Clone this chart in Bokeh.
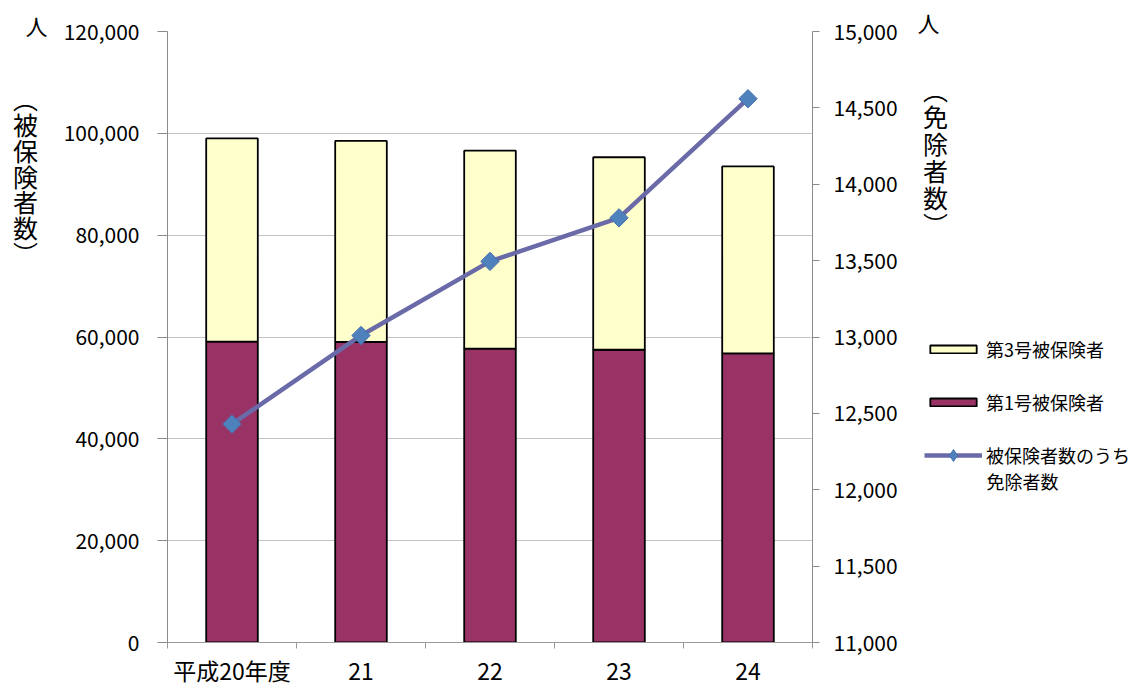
import math
from bokeh.plotting import figure
from bokeh.layouts import row
from bokeh.models import (Range1d, LinearAxis, FixedTicker, NumeralTickFormatter,
                          Legend, LegendItem, Label, ColumnDataSource)
from bokeh.embed import file_html
from bokeh.resources import INLINE

years = ["平成20年度", "21", "22", "23", "24"]
dai1 = [59100, 59050, 57700, 57500, 56800]      # 第1号被保険者
dai3 = [39900, 39450, 38900, 37800, 36700]      # 第3号被保険者
exempt = [12430, 13010, 13495, 13780, 14560]   # 被保険者数のうち免除者数

left_title = "\n".join(["︵", "被", "保", "険", "者", "数", "︶"])
right_title = "\n".join(["︵", "免", "除", "者", "数", "︶"])
unit = "人"
legend_labels = ["第3号被保険者", "第1号被保険者", "被保険者数のうち", "免除者数"]

JP = "Noto Sans CJK JP"
C1, C3, CL, CM, CMO = "#993366", "#FFFFCC", "#6A6AA8", "#4F81BD", "#4672B0"

xs = [i + 0.5 for i in range(len(years))]
src = ColumnDataSource(dict(x=xs, dai1=dai1, dai3=dai3, exempt=exempt))

TOP, BOTTOM = 31, 642   # frame edges in page pixels (shared by the row)

# ---------------- main chart ----------------
p = figure(frame_width=645, frame_height=BOTTOM - TOP,
           min_border_left=117, min_border_right=95, min_border_top=TOP, min_border_bottom=43,
           x_range=Range1d(0, 5), y_range=Range1d(0, 120000), title_location=None,
           output_backend="svg", toolbar_location=None)
p.outline_line_color = None
p.extra_y_ranges = {"right": Range1d(11000, 15000)}

p.vbar_stack(["dai1", "dai3"], x="x", width=0.4, source=src,
             fill_color=[C1, C3], line_color="black", line_width=1.8)
p.line("x", "exempt", source=src, y_range_name="right", line_color=CL, line_width=4.5)
p.scatter("x", "exempt", source=src, y_range_name="right", marker="square",
          angle=math.pi / 4, size=13, fill_color=CM, line_color=CMO, line_width=1)

xa = p.xaxis[0]
xa.ticker = FixedTicker(ticks=xs, minor_ticks=[0, 1, 2, 3, 4, 5])
xa.major_label_overrides = {x: y for x, y in zip(xs, years)}
xa.major_tick_out = 0
xa.major_tick_in = 0
xa.minor_tick_out = 6
xa.minor_tick_in = 0
xa.minor_tick_line_color = "#9a9a9a"
xa.axis_line_color = "#9a9a9a"
xa.major_label_text_font = JP
xa.major_label_text_font_size = "23px"
xa.major_label_text_color = "black"
xa.major_label_standoff = 4

ya = p.yaxis[0]
ya.ticker = FixedTicker(ticks=list(range(0, 120001, 20000)))
ya.formatter = NumeralTickFormatter(format="0,0")
ya.major_tick_out = 10
ya.major_tick_in = 0
ya.minor_tick_line_color = None
ya.axis_line_color = "#8a8a8a"
ya.major_tick_line_color = "#8a8a8a"
ya.major_label_text_font = JP
ya.major_label_text_font_size = "21px"
ya.major_label_text_color = "black"
ya.major_label_standoff = 18

ra = LinearAxis(y_range_name="right",
                ticker=FixedTicker(ticks=list(range(11000, 15001, 500))),
                formatter=NumeralTickFormatter(format="0,0"))
ra.major_tick_out = 7
ra.major_tick_in = 0
ra.minor_tick_line_color = None
ra.axis_line_color = "#8a8a8a"
ra.major_tick_line_color = "#8a8a8a"
ra.major_label_text_font = JP
ra.major_label_text_font_size = "21px"
ra.major_label_text_color = "black"
ra.major_label_standoff = 14
p.add_layout(ra, "right")

p.xgrid.grid_line_color = None
p.ygrid.ticker = FixedTicker(ticks=list(range(0, 120001, 20000)))
p.ygrid.grid_line_color = "#c4c4c4"
p.ygrid.grid_line_width = 1


def unit_title(fig, offset, standoff):
    fig.title.text = unit
    fig.title.align = "left"
    fig.title.offset = offset
    fig.title.vertical_align = "bottom"
    fig.title.standoff = standoff
    fig.title.text_font = JP
    fig.title.text_font_size = "22px"
    fig.title.text_font_style = "normal"
    fig.title.text_color = "black"


# ---------------- left strip: unit + vertical axis title ----------------
p0 = figure(width=50, height=685, min_border=0, min_border_top=TOP,
            x_range=Range1d(0, 50), y_range=Range1d(BOTTOM, TOP),
            x_axis_type=None, y_axis_type=None,
            output_backend="svg", toolbar_location=None)
p0.outline_line_color = None
p0.xgrid.visible = False
p0.ygrid.visible = False
unit_title(p0, 25, -18)
p0.add_layout(Label(x=25, y=176, text=left_title, text_font=JP, text_font_size="25px",
                    text_color="black", text_align="center", text_baseline="middle",
                    text_line_height=0.72))

# ---------------- right strip: unit, axis title, legend ----------------
X0 = 907
p2 = figure(width=1136 - X0, height=685, min_border=0, min_border_top=TOP,
            x_range=Range1d(X0, 1136), y_range=Range1d(BOTTOM, TOP),
            x_axis_type=None, y_axis_type=None,
            output_backend="svg", toolbar_location=None)
p2.outline_line_color = None
p2.xgrid.visible = False
p2.ygrid.visible = False
unit_title(p2, 10, -12)
p2.add_layout(Label(x=935, y=157, text=right_title, text_font=JP, text_font_size="25px",
                    text_color="black", text_align="center", text_baseline="middle",
                    text_line_height=0.75))

# legend swatches: same data and styles as the chart, lying outside this strip's ranges
g3 = p2.rect(x="x", y="dai3", width=0.4, height="dai3", source=src, fill_color=C3,
             line_color="black", line_width=1.8)
g1 = p2.rect(x="x", y="dai1", width=0.4, height="dai1", source=src, fill_color=C1,
             line_color="black", line_width=1.8)
gl = p2.line("x", "exempt", source=src, line_color=CL, line_width=4.5)
gm = p2.scatter("x", "exempt", source=src, marker="diamond", size=13,
                fill_color=CM, line_color=CMO, line_width=1)


def style(lg, gh):
    lg.label_text_font = JP
    lg.label_text_font_size = "18px"
    lg.label_text_color = "black"
    lg.label_text_line_height = 1.0
    lg.label_height = 22
    lg.glyph_width = 58
    lg.glyph_height = gh
    lg.spacing = 27
    lg.padding = 0
    lg.margin = 0
    lg.label_standoff = 4
    lg.border_line_color = None
    lg.background_fill_alpha = 0


leg1 = Legend(items=[LegendItem(label=legend_labels[0], renderers=[g3]),
                     LegendItem(label=legend_labels[1], renderers=[g1])],
              location=(924 - X0, BOTTOM - 416 - 3))
style(leg1, 10)
p2.add_layout(leg1, "center")

leg2 = Legend(items=[LegendItem(label=legend_labels[2], renderers=[gl, gm])],
              location=(924 - X0, BOTTOM - 471 - 3))
style(leg2, 30)
p2.add_layout(leg2, "center")

p2.add_layout(Label(x=986, y=483, text=legend_labels[3], text_font=JP, text_font_size="18px",
                    text_color="black", text_align="left", text_baseline="middle"))

layout = row(p0, p, p2)
open("out.html", "w").write(file_html(layout, INLINE))
